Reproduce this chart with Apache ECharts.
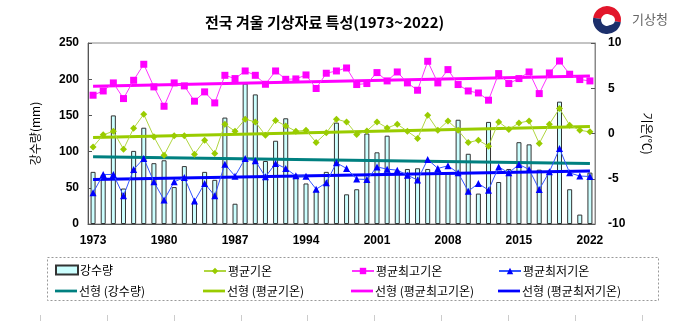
<!DOCTYPE html>
<html><head><meta charset="utf-8">
<script src="https://cdn.jsdelivr.net/npm/echarts@6/dist/echarts.min.js"></script>
<style>html,body{margin:0;padding:0;background:#fff}#c{width:682px;height:321px}</style>
</head><body><div id="c"></div>
<script>
var years = [];
for (var y = 1973; y <= 2022; y++) years.push(String(y));

var precip = [72,68,150,49,101,133,84,88,51,80,31,72,61,147,28,194,179,87,115,146,68,56,46,72,140,41,48,125,99,122,74,76,77,76,74,70,144,97,42,141,58,76,113,110,75,73,169,48,13,71];
var meanTemp = [-1.48,-0.15,0.25,-1.73,0.58,2.13,-0.37,-2.4,-0.26,-0.26,-2.28,-0.74,-2.21,1.03,0.25,1.58,1.28,-0.19,1.43,0.84,0.25,0.36,-0.99,0.07,1.58,1.28,-0.11,0.29,1.28,0.62,1.03,0.25,-0.55,2.02,0.36,1.39,0.36,-0.99,-0.74,-1.4,1.28,0.45,1.17,1.39,-1.1,1.03,2.76,0.92,0.36,0.18];
var maxTemp = [4.23,4.7,5.59,3.86,5.88,7.65,5.15,3.01,5.59,5.26,3.57,4.6,3.38,6.43,6.07,6.91,6.43,5.44,6.91,5.99,6.03,6.47,4.97,6.66,6.91,7.24,5.41,5.52,6.73,5.81,6.8,5.59,4.78,7.98,5.59,7.06,5.41,4.7,4.48,3.68,6.62,5.52,6.07,6.8,4.41,6.69,8.01,6.55,5.96,5.81];
var minTemp = [-6.55,-4.53,-4.53,-6.88,-3.97,-2.76,-5.34,-7.36,-5.34,-4.86,-7.47,-5.52,-6.88,-3.39,-4.71,-2.76,-3.02,-4.79,-3.31,-3.86,-4.68,-4.71,-6.15,-5.45,-3.24,-3.86,-5.04,-5.08,-3.69,-3.94,-4.05,-4.6,-5.15,-2.87,-3.86,-3.57,-4.35,-6.37,-5.52,-6.26,-3.69,-4.35,-3.42,-3.97,-6.18,-4.24,-1.66,-4.35,-4.7,-4.75];

// linear trend endpoints (first year, last year)
var trendPrecip = [92.8, 83.6];
var trendMean = [-0.44, 0.76];
var trendMax = [5.22, 6.34];
var trendMin = [-5.08, -4.15];

var leftTicks = [0, 250, 50];
var rightTicks = [-10, 10, 5];

var names = ['강수량','평균기온','평균최고기온','평균최저기온','선형 (강수량)','선형 (평균기온)','선형 (평균최고기온)','선형 (평균최저기온)'];

function trendData(t){ return [[years[0], t[0]], [years[years.length-1], t[1]]]; }

var NUMF = "'Liberation Sans', Arial, sans-serif";
var KRF = "'Noto Sans CJK KR', 'Liberation Sans', sans-serif";

var chart = echarts.init(document.getElementById('c'), null, {renderer:'canvas'});

var colX = [55, 203, 351, 498];
var rowY = [262, 280];
var legends = [];
for (var i = 0; i < 8; i++) {
  var isTrend = i >= 4;
  var item = {name: names[i]};
  if (isTrend) item.icon = 'path://M0,0L24,0L24,3L0,3Z';
  if (i === 0) item.icon = 'rect';
  legends.push({
    left: colX[i % 4], top: rowY[isTrend ? 1 : 0] + (isTrend ? 5 : (i===0?2:3)),
    padding: 0, itemGap: 0,
    itemWidth: 22, itemHeight: isTrend ? 3 : (i === 0 ? 9 : 8),
    data: [item],
    textStyle: {fontFamily: KRF, fontSize: 12, color: '#000', padding: [0,0,0,-3]},
    selectedMode: false
  });
}

var bottomTicks = [];
[40, 107, 174, 241, 307, 374, 441, 508, 575, 642].forEach(function(x){
  bottomTicks.push({type: 'line', shape: {x1: x + 0.5, y1: 315, x2: x + 0.5, y2: 321}, style: {stroke: '#ccc', lineWidth: 1}, silent: true});
});

var option = {
  animation: false,
  title: {
    text: '전국 겨울 기상자료 특성(1973~2022)',
    left: 200, top: 10,
    textStyle: {fontFamily: KRF, fontSize: 15, fontWeight: 'bold', color: '#000'}
  },
  legend: legends,
  grid: {left: 88, right: 87, top: 43, bottom: 97, show: true, borderColor: '#888', borderWidth: 1},
  xAxis: {
    type: 'category', data: years, boundaryGap: true,
    axisLine: {lineStyle: {color: '#555'}},
    axisTick: {inside: true, length: 3, interval: 6, lineStyle: {color: '#555'}},
    axisLabel: {interval: 6, margin: 11, fontFamily: NUMF, fontWeight: 'bold', fontSize: 12, color: '#000'},
    splitLine: {show: false}
  },
  yAxis: [{
    type: 'value', min: leftTicks[0], max: leftTicks[1], interval: leftTicks[2],
    name: '강수량(mm)', nameLocation: 'middle', nameGap: 47,
    nameTextStyle: {fontFamily: KRF, fontSize: 12, color: '#000'},
    axisLine: {show: true, lineStyle: {color: '#555'}},
    axisTick: {show: true, inside: true, length: 4, lineStyle: {color: '#555'}},
    axisLabel: {margin: 9, fontFamily: NUMF, fontWeight: 'bold', fontSize: 12, color: '#000'},
    splitLine: {show: false}
  }, {
    type: 'value', min: rightTicks[0], max: rightTicks[1], interval: rightTicks[2],
    name: '기온(℃)', nameLocation: 'middle', nameGap: 46, nameRotate: -90,
    nameTextStyle: {fontFamily: KRF, fontSize: 12, color: '#000'},
    axisLine: {show: true, lineStyle: {color: '#888'}},
    axisTick: {show: true, inside: true, length: 4, lineStyle: {color: '#555'}},
    axisLabel: {margin: 13, fontFamily: NUMF, fontWeight: 'bold', fontSize: 12, color: '#000'},
    splitLine: {show: false}
  }],
  series: [{
    name: names[0], type: 'bar', data: precip, yAxisIndex: 0, barWidth: 5,
    itemStyle: {color: '#ccffff', borderColor: '#333', borderWidth: 1}, z: 1
  }, {
    name: names[1], type: 'line', data: meanTemp, yAxisIndex: 1,
    symbol: 'diamond', symbolSize: 7, showSymbol: true, showAllSymbol: true,
    lineStyle: {color: '#b0d640', width: 1}, itemStyle: {color: '#99cc00'}, z: 4
  }, {
    name: names[2], type: 'line', data: maxTemp, yAxisIndex: 1,
    symbol: 'rect', symbolSize: 7, showSymbol: true, showAllSymbol: true,
    lineStyle: {color: '#ff33ff', width: 1}, itemStyle: {color: '#ff00ff'}, z: 4
  }, {
    name: names[3], type: 'line', data: minTemp, yAxisIndex: 1,
    symbol: 'triangle', symbolSize: 7, showSymbol: true, showAllSymbol: true,
    lineStyle: {color: '#3355ff', width: 1}, itemStyle: {color: '#0000ff'}, z: 4
  }, {
    name: names[4], type: 'line', data: trendData(trendPrecip), yAxisIndex: 0,
    symbol: 'none', lineStyle: {color: '#008080', width: 3}, itemStyle: {color: '#008080'}, z: 3
  }, {
    name: names[5], type: 'line', data: trendData(trendMean), yAxisIndex: 1,
    symbol: 'none', lineStyle: {color: '#99cc00', width: 3}, itemStyle: {color: '#99cc00'}, z: 3
  }, {
    name: names[6], type: 'line', data: trendData(trendMax), yAxisIndex: 1,
    symbol: 'none', lineStyle: {color: '#ff00ff', width: 3}, itemStyle: {color: '#ff00ff'}, z: 3
  }, {
    name: names[7], type: 'line', data: trendData(trendMin), yAxisIndex: 1,
    symbol: 'none', lineStyle: {color: '#0000ff', width: 3}, itemStyle: {color: '#0000ff'}, z: 3
  }],
  graphic: [
    {type: 'rect', shape: {x: 47.5, y: 257.5, width: 611, height: 43}, style: {fill: 'none', stroke: '#999', lineWidth: 1, lineDash: [2,2]}, silent: true},
    {type: 'group', left: 593, top: 6, children: [
      {type: 'circle', shape: {cx: 14, cy: 14, r: 14}, style: {fill: '#fff'}},
      {type: 'sector', shape: {cx: 14, cy: 14, r: 14, r0: 6, startAngle: -Math.PI*0.95, endAngle: Math.PI*0.05}, style: {fill: '#e2162b'}},
      {type: 'sector', shape: {cx: 14, cy: 14, r: 14, r0: 6, startAngle: Math.PI*0.05, endAngle: Math.PI*1.05}, style: {fill: '#1c2f6b'}},
      {type: 'circle', shape: {cx: 17, cy: 14, r: 5}, style: {fill: '#fff'}}
    ]},
    {type: 'text', left: 632, top: 13, style: {text: '기상청', font: '13px ' + KRF, fill: '#666'}}
  ].concat(bottomTicks)
};
chart.setOption(option);
</script>
</body></html>
